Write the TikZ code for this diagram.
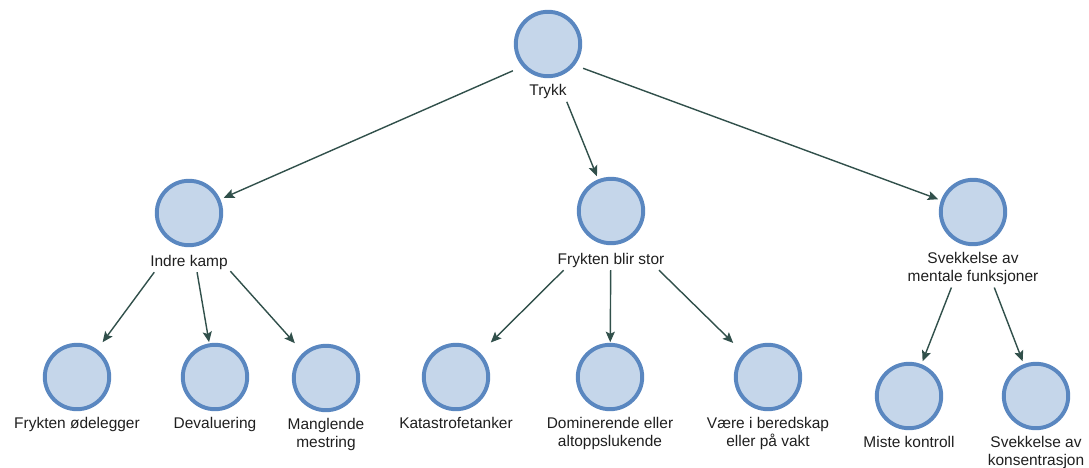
\documentclass[tikz,border=0pt]{standalone}
\usepackage{fontspec}
\setmainfont{Liberation Sans}
\usetikzlibrary{positioning,fit,arrows.meta}
\definecolor{bollefyll}{HTML}{C5D6EA}
\definecolor{bollekant}{HTML}{5A87C0}
\definecolor{pilfarge}{HTML}{31504B}

\begin{document}
\begin{tikzpicture}[x=0.025cm, y=-0.025cm,
bolle/.style={rectangle, minimum size=1.725cm, inner sep=0pt,
  path picture={\draw[bollekant, fill=bollefyll, line width=2.8pt]
    (path picture bounding box.center) circle (0.805cm);}},
tekst/.style={font=\fontsize{11}{12.6}\selectfont, align=center, inner sep=1.5pt, text=black!88},
boks/.style={inner sep=0pt},
pil/.style={draw=pilfarge, line width=1pt, -{Stealth[length=7.5pt,width=6.5pt,inset=1.5pt]}}]
\useasboundingbox (0,0) rectangle (1089,467);

\node[bolle] (trykk) at (548,44) {};
\node[tekst, below=2.5pt of trykk] (trykk-l) {Trykk};

\node[bolle] (kamp) at (189,213) {};
\node[tekst, below=3.5pt of kamp] (kamp-l) {Indre kamp};
\node[bolle] (frykt) at (611,211) {};
\node[tekst, below=3.5pt of frykt] (frykt-l) {Frykten blir stor};
\node[bolle] (svekk) at (973,212) {};
\node[tekst, below=2.5pt of svekk] (svekk-l) {Svekkelse av\\mentale funksjoner};

\node[bolle] (odelegg) at (77,377) {};
\node[tekst, below=2.5pt of odelegg] (odelegg-l) {Frykten ødelegger};
\node[bolle] (deval) at (215,377) {};
\node[tekst, below=2.5pt of deval] (deval-l) {Devaluering};
\node[bolle] (mangl) at (326,378) {};
\node[tekst, below=2.5pt of mangl] (mangl-l) {Manglende\\mestring};
\node[bolle] (katastr) at (456,377) {};
\node[tekst, below=2.5pt of katastr] (katastr-l) {Katastrofetanker};
\node[bolle] (domin) at (610,377) {};
\node[tekst, below=2.5pt of domin] (domin-l) {Dominerende eller\\altoppslukende};
\node[bolle] (vakt) at (768,377) {};
\node[tekst, below=2.5pt of vakt] (vakt-l) {Være i beredskap\\eller på vakt};
\node[bolle] (kontroll) at (909,396) {};
\node[tekst, below=2.5pt of kontroll] (kontroll-l) {Miste kontroll};
\node[bolle] (konsentr) at (1036,396) {};
\node[tekst, below=2.5pt of konsentr] (konsentr-l) {Svekkelse av\\konsentrasjon};

\node[boks, fit=(trykk)(trykk-l)] (trykk-f) {};
\node[boks, fit=(kamp)(kamp-l)] (kamp-f) {};
\node[boks, fit=(frykt)(frykt-l)] (frykt-f) {};
\node[boks, fit=(svekk)(svekk-l)] (svekk-f) {};

\draw[pil] (trykk-f) -- (kamp);
\draw[pil] (trykk-f) -- (frykt);
\draw[pil] (trykk-f) -- (svekk);
\draw[pil] (kamp-f) -- (odelegg);
\draw[pil] (kamp-f) -- (deval);
\draw[pil] (kamp-f) -- (mangl);
\draw[pil] (frykt-f) -- (katastr);
\draw[pil] (frykt-f) -- (domin);
\draw[pil] (frykt-f) -- (vakt);
\draw[pil] (svekk-f) -- (kontroll);
\draw[pil] (svekk-f) -- (konsentr);
\end{tikzpicture}
\end{document}
